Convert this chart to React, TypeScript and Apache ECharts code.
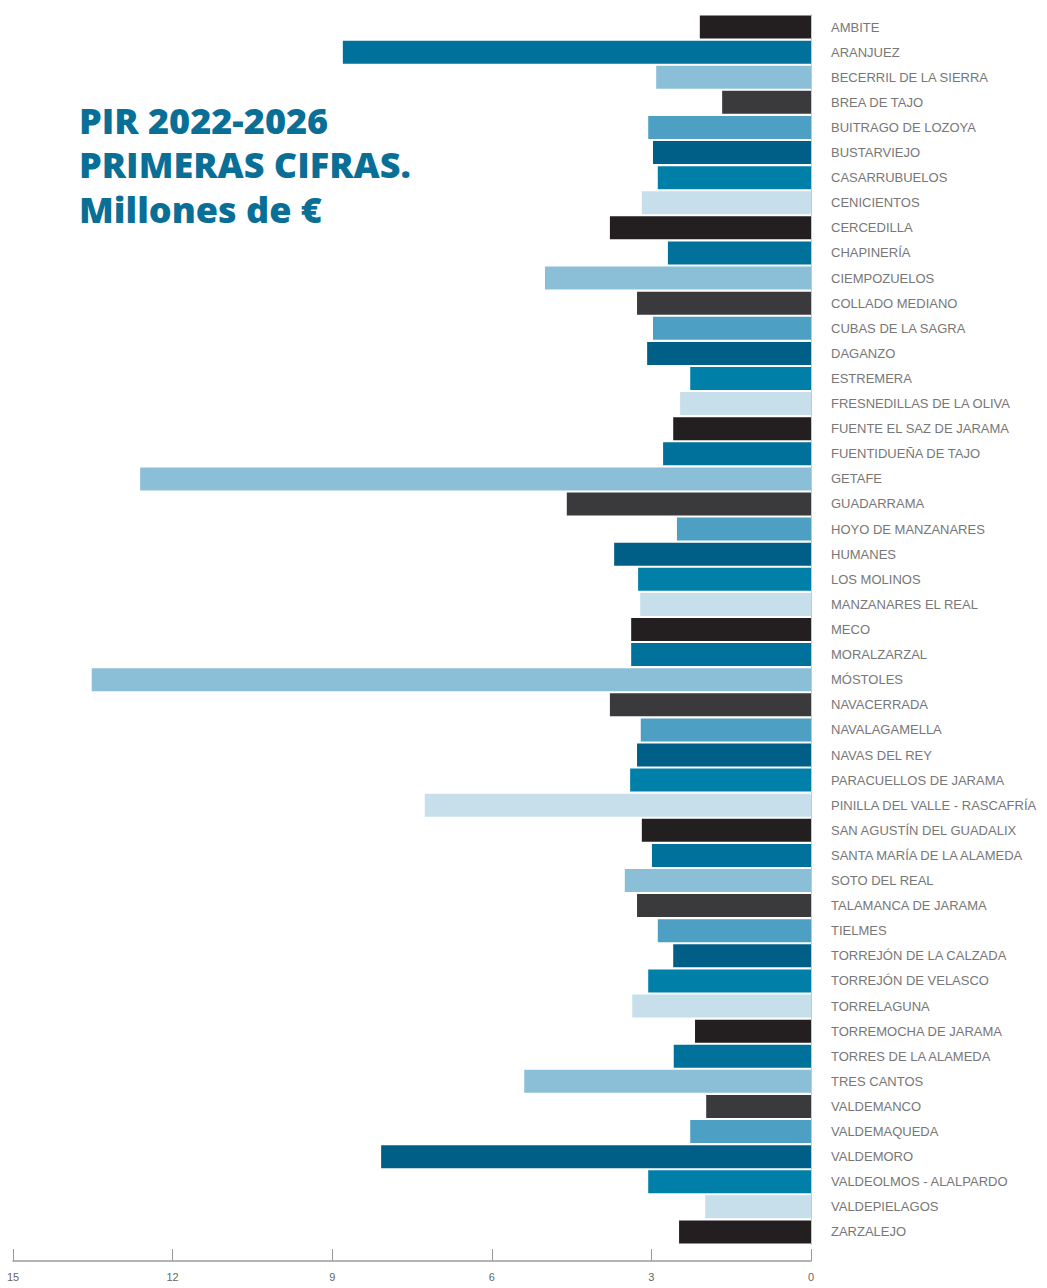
import React, { useEffect, useRef } from "react";
import * as echarts from "echarts";

const categories: string[] = [
  "AMBITE", "ARANJUEZ", "BECERRIL DE LA SIERRA", "BREA DE TAJO", "BUITRAGO DE LOZOYA",
  "BUSTARVIEJO", "CASARRUBUELOS", "CENICIENTOS", "CERCEDILLA", "CHAPINERÍA",
  "CIEMPOZUELOS", "COLLADO MEDIANO", "CUBAS DE LA SAGRA", "DAGANZO", "ESTREMERA",
  "FRESNEDILLAS DE LA OLIVA", "FUENTE EL SAZ DE JARAMA", "FUENTIDUEÑA DE TAJO", "GETAFE", "GUADARRAMA",
  "HOYO DE MANZANARES", "HUMANES", "LOS MOLINOS", "MANZANARES EL REAL", "MECO",
  "MORALZARZAL", "MÓSTOLES", "NAVACERRADA", "NAVALAGAMELLA", "NAVAS DEL REY",
  "PARACUELLOS DE JARAMA", "PINILLA DEL VALLE - RASCAFRÍA", "SAN AGUSTÍN DEL GUADALIX", "SANTA MARÍA DE LA ALAMEDA", "SOTO DEL REAL",
  "TALAMANCA DE JARAMA", "TIELMES", "TORREJÓN DE LA CALZADA", "TORREJÓN DE VELASCO", "TORRELAGUNA",
  "TORREMOCHA DE JARAMA", "TORRES DE LA ALAMEDA", "TRES CANTOS", "VALDEMANCO", "VALDEMAQUEDA",
  "VALDEMORO", "VALDEOLMOS - ALALPARDO", "VALDEPIELAGOS", "ZARZALEJO",
];

const values: number[] = [
  2.09, 8.8, 2.91, 1.67, 3.06,
  2.97, 2.88, 3.18, 3.78, 2.69,
  5.0, 3.27, 2.97, 3.08, 2.27,
  2.46, 2.59, 2.78, 12.61, 4.59,
  2.52, 3.7, 3.25, 3.21, 3.38,
  3.38, 13.52, 3.78, 3.2, 3.27,
  3.4, 7.26, 3.18, 2.99, 3.5,
  3.27, 2.88, 2.59, 3.06, 3.36,
  2.18, 2.58, 5.39, 1.97, 2.27,
  8.08, 3.06, 1.99, 2.48,
];

const titleLines: string[] = ["PIR 2022-2026", "PRIMERAS CIFRAS.", "Millones de €"];

const palette: string[] = [
  "#231f20", "#00719a", "#8bbfd7", "#3a3a3c",
  "#4d9fc3", "#005f87", "#0080a9", "#c6dfea",
];

export default function App() {
  const ref = useRef<HTMLDivElement>(null);

  useEffect(() => {
    if (!ref.current) return;
    const chart = echarts.init(ref.current, null, { renderer: "svg" });
    chart.setOption({
      animation: false,
      backgroundColor: "#ffffff",
      grid: { left: 13, right: 236, top: 14.5, bottom: 43.5, containLabel: false },
      xAxis: {
        type: "value",
        inverse: true,
        min: 0,
        max: 15,
        interval: 3,
        position: "bottom",
        offset: 16.5,
        axisLine: { show: true, lineStyle: { color: "#9a9a9a", width: 1.5 } },
        axisTick: { show: true, inside: true, length: 12, lineStyle: { color: "#9a9a9a" } },
        axisLabel: {
          color: "#666",
          fontSize: 11,
          margin: 10,
          fontFamily: "'Liberation Sans Narrow', 'Liberation Sans', sans-serif",
        },
        splitLine: { show: false },
      },
      yAxis: {
        type: "category",
        inverse: true,
        position: "right",
        data: categories,
        axisLine: { show: true, lineStyle: { color: "#c8c8c8" } },
        axisTick: { show: false },
        axisLabel: {
          color: "#777",
          fontSize: 13,
          margin: 20,
          align: "left",
          fontFamily: "'Liberation Sans', Arial, sans-serif",
        },
      },
      series: [
        {
          type: "bar",
          data: values,
          barWidth: 23,
          itemStyle: {
            color: (p: any) => palette[p.dataIndex % palette.length],
          },
        },
      ],
      graphic: titleLines.map((t, i) => ({
        type: "text",
        x: 79,
        y: 120 + i * 44.5,
        style: {
          text: t,
          fill: "#0a6f96",
          font: "800 36px 'Open Sans', sans-serif",
          textAlign: "left",
          textVerticalAlign: "middle",
        },
      })),
    });
    return () => chart.dispose();
  }, []);

  return (
    <div
      ref={ref}
      style={{ position: "absolute", left: 0, top: 0, width: 1047, height: 1288 }}
    />
  );
}
